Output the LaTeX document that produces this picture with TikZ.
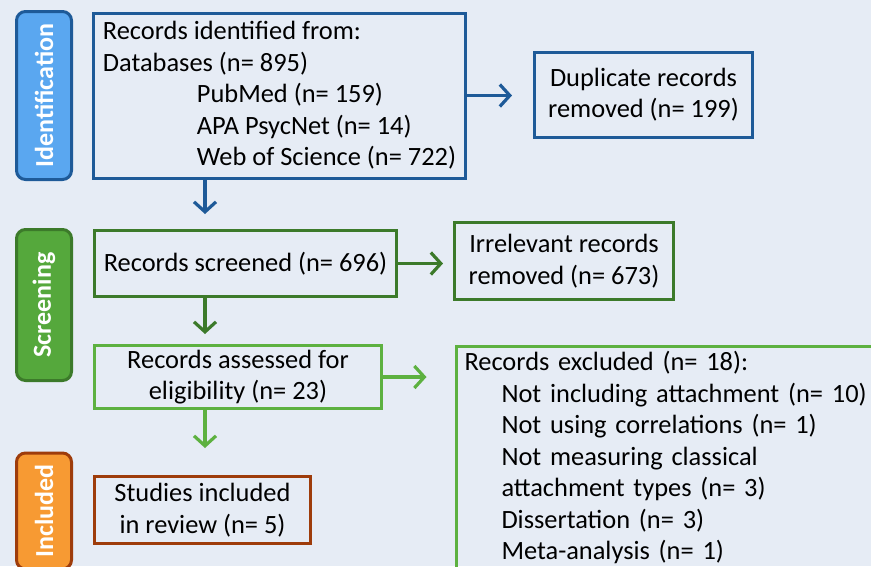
\documentclass[tikz,border=0pt]{standalone}
\usepackage{fontspec}
\setmainfont{Carlito}
\usetikzlibrary{arrows.meta}
\definecolor{pagebg}{HTML}{E6ECF5}
\definecolor{idfill}{HTML}{5AA7F0}
\definecolor{idline}{HTML}{1E5A98}
\definecolor{scrfill}{HTML}{55A83C}
\definecolor{scrline}{HTML}{3C7A2A}
\definecolor{eligline}{HTML}{5DB140}
\definecolor{incfill}{HTML}{F79A33}
\definecolor{incline}{HTML}{9E3C0B}
\begin{document}
\begin{tikzpicture}[x=1pt, y=-1pt,
    every node/.style={font=\fontsize{26.4}{31.5}\selectfont, inner sep=0pt, line width=3pt},
    box/.style={draw, align=center},
    tag/.style={draw, rounded corners=9pt, rotate=90, text=white, minimum height=55,
        font=\fontsize{26}{31.5}\selectfont\bfseries},
    arr/.style={line width=3.2pt, -{Straight Barb[length=10pt, width=22pt]}}]
    \path[use as bounding box, fill=pagebg] (0,0) rectangle (871,566);
    \clip (0,0) rectangle (871,566);
    % stage tags
    \node[tag, fill=idfill, draw=idline, minimum width=168] (tagid) at (44,95.5) {Identification};
    \node[tag, fill=scrfill, draw=scrline, minimum width=151] (tagscr) at (44,305) {Screening};
    \node[tag, fill=incfill, draw=incline, minimum width=116] (taginc) at (44,511) {Included};
    % boxes
    \node[box, draw=idline, align=left, minimum width=372, minimum height=165] (ident) at (279.5,95.5)
        {Records identified from:\\
         Databases (n= 895)\\
         \hspace*{94pt}PubMed (n= 159)\\
         \hspace*{94pt}APA PsycNet (n= 14)\\
         \hspace*{94pt}Web of Science (n= 722)};
    \node[box, draw=idline, minimum width=218, minimum height=85] (dupl) at (643.5,94.5)
        {Duplicate records\\ removed (n= 199)};
    \node[box, draw=scrline, minimum width=302, minimum height=66] (scrn) at (245.5,263.5)
        {Records screened (n= 696)};
    \node[box, draw=scrline, minimum width=219, minimum height=77] (irrel) at (564,261)
        {Irrelevant records\\ removed (n= 673)};
    \node[box, draw=eligline, minimum width=287, minimum height=63] (elig) at (238,377)
        {Records assessed for\\ eligibility (n= 23)};
    \node[box, draw=eligline, align=left, anchor=north west, text width=420,
        inner xsep=8.5pt, inner ysep=5.5pt] (excl) at (454.5,344.5)
        {Records excluded (n= 18):\\
         \hspace*{37pt}Not including attachment (n= 10)\\
         \hspace*{37pt}Not using correlations (n= 1)\\
         \hspace*{37pt}Not measuring classical\\
         \hspace*{37pt}attachment types (n= 3)\\
         \hspace*{37pt}Dissertation (n= 3)\\
         \hspace*{37pt}Meta-analysis (n= 1)\\ \mbox{}};
    \node[box, draw=incline, minimum width=216, minimum height=67] (incl) at (202.5,510)
        {Studies included\\ in review (n= 5)};
    % arrows
    \coordinate (spine) at (205,0);
    \draw[arr, idline, shorten >=21pt] (ident.east) -- (ident.east -| dupl.west);
    \draw[arr, idline, shorten >=15pt] (ident.south -| spine) -- (scrn.north -| spine);
    \draw[arr, scrline, shorten >=10pt] (scrn.east) -- (scrn.east -| irrel.west);
    \draw[arr, scrline, shorten >=10pt] (scrn.south -| spine) -- (elig.north -| spine);
    \draw[arr, eligline, shorten >=28pt] (elig.east) -- (elig.east -| excl.west);
    \draw[arr, eligline, shorten >=27pt] (elig.south -| spine) -- (incl.north -| spine);
\end{tikzpicture}
\end{document}
